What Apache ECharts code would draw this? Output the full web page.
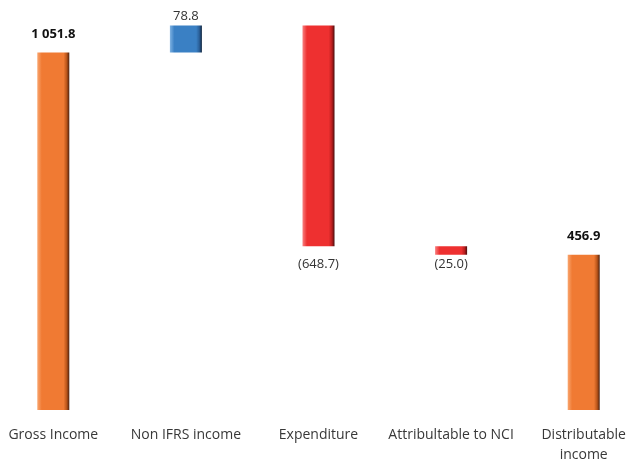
<!DOCTYPE html>
<html><head><meta charset="utf-8">
<script src="https://cdn.jsdelivr.net/npm/echarts@6/dist/echarts.min.js"></script>
<style>html,body{margin:0;padding:0;background:#fff;overflow:hidden;width:626px;height:465px}#c{position:absolute;left:-13px;top:0;width:663px;height:465px}</style>
</head><body><div id="c"></div>
<script>
var categories = ['Gross Income', 'Non IFRS income', 'Expenditure', 'Attribultable to NCI', 'Distributable\nincome'];
var values = [1051.8, 78.8, -648.7, -25.0, 456.9];
var kinds = ['total', 'delta', 'delta', 'delta', 'total'];

var palette = {
  total: ['#f9a56e', '#f07a33', '#b95419', '#4a2010'],
  up: ['#7fb2e2', '#3a80c4', '#2a5f98', '#10243c'],
  down: ['#f87f7f', '#ee3030', '#b81e1e', '#4a0c0c']
};
function grad(p) {
  return {type: 'linear', x: 0, y: 0, x2: 1, y2: 0, colorStops: [
    {offset: 0, color: p[0]}, {offset: 0.14, color: p[1]},
    {offset: 0.82, color: p[1]}, {offset: 0.92, color: p[2]}, {offset: 1, color: p[3]}]};
}
function fmt(v) {
  var a = Math.abs(v).toFixed(1);
  var parts = a.split('.');
  var s = parts[0].replace(/\B(?=(\d{3})+(?!\d))/g, ' ') + '.' + parts[1];
  return v < 0 ? '(' + s + ')' : s;
}
var base = [], vis = [], level = 0;
values.forEach(function (v, i) {
  if (kinds[i] === 'total') {
    base.push(0);
    level = v;
    vis.push({value: v, itemStyle: {color: grad(palette.total)},
      label: {position: 'top', fontWeight: 'bold', color: '#111', distance: 12}});
  } else if (v >= 0) {
    base.push(level);
    level += v;
    vis.push({value: v, itemStyle: {color: grad(palette.up)},
      label: {position: 'top', color: '#333', distance: 3}});
  } else {
    level += v;
    base.push(level);
    vis.push({value: -v, itemStyle: {color: grad(palette.down)},
      label: {position: 'bottom', color: '#333', distance: Math.abs(v) > 100 ? 12 : 3}});
  }
});

var chart = echarts.init(document.getElementById('c'));
chart.setOption({
  animation: false,
  grid: {left: 0, right: 0, top: 2, bottom: 48},
  xAxis: {
    type: 'category', data: categories,
    axisLine: {show: false}, axisTick: {show: false},
    axisLabel: {color: '#383838', fontSize: 14, fontFamily: 'Open Sans, sans-serif', margin: 15, interval: 0, lineHeight: 20}
  },
  yAxis: {type: 'value', min: 0, max: 1200, show: false, splitLine: {show: false}},
  series: [
    {type: 'bar', stack: 'w', data: base, barWidth: 32, itemStyle: {color: 'transparent'}, silent: true},
    {type: 'bar', stack: 'w', data: vis, barWidth: 32,
      label: {show: true, fontSize: 13, fontFamily: 'Open Sans, sans-serif',
        formatter: function (p) { return fmt(values[p.dataIndex]); }}}
  ]
});
</script></body></html>
